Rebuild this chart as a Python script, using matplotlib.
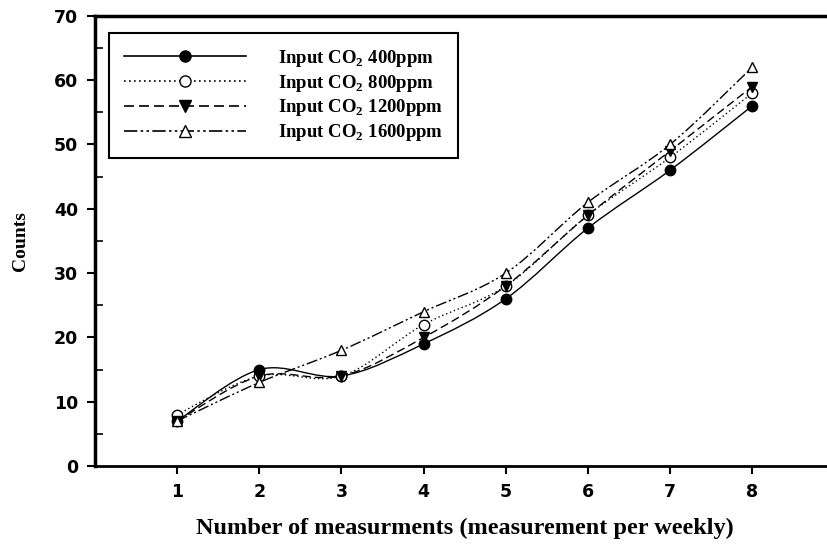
import matplotlib
matplotlib.use("Agg")
import matplotlib.pyplot as plt
import numpy as np
from matplotlib.lines import Line2D
from matplotlib.patches import PathPatch
from matplotlib.path import Path

# measurement index (weekly)
weeks = [1, 2, 3, 4, 5, 6, 7, 8]

co2_400 = [7, 15, 14, 19, 26, 37, 46, 56]
co2_800 = [8, 14, 14, 22, 28, 39, 48, 58]
co2_1200 = [7, 14, 14, 20, 28, 39, 49, 59]
co2_1600 = [7, 13, 18, 24, 30, 41, 50, 62]

labels = [r"Input CO$_2$ 400ppm", r"Input CO$_2$ 800ppm",
          r"Input CO$_2$ 1200ppm", r"Input CO$_2$ 1600ppm"]

SERIF = "Liberation Serif"
plt.rcParams["mathtext.fontset"] = "custom"
plt.rcParams["mathtext.rm"] = "Liberation Serif:bold"
plt.rcParams["mathtext.bf"] = "Liberation Serif:bold"


def smooth_path(x, y):
    """Catmull-Rom curve through the points, as cubic Bezier segments."""
    x = np.asarray(x, float)
    y = np.asarray(y, float)
    pts = np.column_stack([x, y])
    verts = [pts[0]]
    codes = [Path.MOVETO]
    n = len(pts)
    for i in range(n - 1):
        p0 = pts[i - 1] if i > 0 else pts[i]
        p1 = pts[i]
        p2 = pts[i + 1]
        p3 = pts[i + 2] if i + 2 < n else pts[i + 1]
        c1 = p1 + (p2 - p0) / 6.0
        c2 = p2 - (p3 - p1) / 6.0
        verts += [c1, c2, p2]
        codes += [Path.CURVE4] * 3
    return Path(verts, codes)


fig = plt.figure(figsize=(8.27, 5.47), dpi=100)
ax = fig.add_axes([0.1149, 0.148, 0.894, 0.823])

series = [
    (co2_400, "-", dict(marker="o", markerfacecolor="black")),
    (co2_800, (0, (1, 2)), dict(marker="o", markerfacecolor="white")),
    (co2_1200, (0, (6, 3)), dict(marker="v", markerfacecolor="black")),
    (co2_1600, (0, (8, 2, 1.5, 2, 1.5, 2)), dict(marker="^", markerfacecolor="white")),
]

handles = []
for (vals, ls, mk), lab in zip(series, labels):
    patch = PathPatch(smooth_path(weeks, vals), facecolor="none",
                      edgecolor="black", linewidth=1.0, linestyle=ls)
    ax.add_patch(patch)
    ax.plot(weeks, vals, linestyle="none", markeredgecolor="black",
            markersize=7.5, markeredgewidth=1.0, **mk)
    handles.append(Line2D([], [], color="black", linewidth=1.2, linestyle=ls,
                          markeredgecolor="black", markersize=8, **mk))

ax.set_xlim(0, 9)
ax.set_ylim(0, 70)
ax.set_xticks(weeks)
ax.set_yticks(np.arange(0, 71, 10))
ax.set_yticks(np.arange(5, 70, 10), minor=True)

for s in ["left", "top"]:
    ax.spines[s].set_linewidth(2.5)
ax.spines["bottom"].set_linewidth(2.0)
ax.spines["right"].set_visible(False)

ax.tick_params(axis="both", which="major", direction="out", length=6,
               width=1.5, labelsize=12.5, pad=6)
ax.tick_params(axis="y", which="minor", direction="in", length=6, width=1.2)
ax.tick_params(axis="x", which="minor", bottom=False)
for t in ax.get_xticklabels() + ax.get_yticklabels():
    t.set_fontweight("bold")
    t.set_family("DejaVu Sans")

ax.set_xlabel("Number of measurments (measurement per weekly)",
              fontfamily=SERIF, fontweight="bold", fontsize=17.5, labelpad=12)
ax.set_ylabel("Counts", fontfamily=SERIF, fontweight="bold", fontsize=14,
              labelpad=18)

leg = ax.legend(handles, labels, loc="upper left",
                bbox_to_anchor=(0.019, 0.962), numpoints=1, handlelength=6.5,
                handletextpad=1.7, labelspacing=0.2, borderpad=0.8,
                borderaxespad=0, fancybox=False, edgecolor="black",
                framealpha=1,
                prop={"family": SERIF, "weight": "bold", "size": 13.5})
leg.get_frame().set_linewidth(1.5)

fig.savefig("out.png", dpi=100)
